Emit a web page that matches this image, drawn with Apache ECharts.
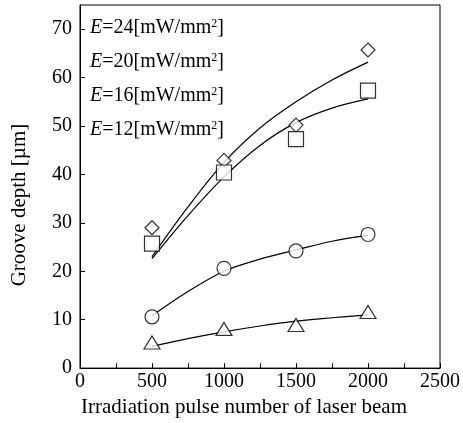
<!DOCTYPE html>
<html>
<head>
<meta charset="utf-8">
<script src="https://cdn.jsdelivr.net/npm/echarts@6/dist/echarts.min.js"></script>
<style>
  html, body { margin: 0; padding: 0; background: #fff; }
  #chart { width: 463px; height: 423px; }
</style>
</head>
<body>
<div id="chart"></div>
<script>
// measured points
var pulses = [500, 1000, 1500, 2000];
var depthE24 = [29.0, 42.9, 50.2, 65.7];
var depthE20 = [25.7, 40.4, 47.3, 57.3];
var depthE16 = [10.6, 20.6, 24.2, 27.6];
var depthE12 = [5.3, 8.1, 8.9, 11.6];

// fitted curves
var fitPulses = [500, 750, 1000, 1250, 1500, 1750, 2000];
var fitE24 = [23.0, 33.3, 42.5, 49.6, 55.0, 59.5, 63.2];
var fitE20 = [22.6, 31.5, 39.5, 46.0, 50.7, 53.7, 55.6];
var fitE16 = [10.8, 15.8, 20.0, 22.5, 24.4, 26.2, 27.4];
var fitE12 = [4.5, 6.1, 7.5, 8.7, 9.7, 10.4, 11.0];

var legendLabels = ['24', '20', '16', '12'];

var FONT = 'Liberation Serif';

function pairs(xs, ys) {
    return xs.map(function (x, i) { return [x, ys[i]]; });
}

function markerSeries(data, symbol, size) {
    return {
        type: 'scatter',
        data: pairs(pulses, data),
        symbol: symbol,
        symbolSize: size,
        itemStyle: { color: '#fff', borderColor: '#000', borderWidth: 1.2 },
        z: 3
    };
}

function fitSeries(data) {
    return {
        type: 'line',
        data: pairs(fitPulses, data),
        smooth: 0.35,
        showSymbol: false,
        lineStyle: { color: '#000', width: 1.2 },
        z: 2
    };
}

var chart = echarts.init(document.getElementById('chart'));

var legendTexts = legendLabels.map(function (v, i) {
    return {
        type: 'text',
        left: 90,
        top: 18 + i * 34,
        style: {
            text: '{i|E}=' + v + '[mW/mm{s|2}]',
            font: '20px ' + FONT,
            fill: '#000',
            rich: {
                i: { fontFamily: FONT, fontSize: 20, fontStyle: 'italic', fill: '#000' },
                s: { fontFamily: FONT, fontSize: 12, verticalAlign: 'top', fill: '#000' }
            }
        }
    };
});

chart.setOption({
    animation: false,
    backgroundColor: '#fff',
    grid: {
        left: 80, right: 19, top: 5, bottom: 53,
        show: true, borderColor: '#000', borderWidth: 1
    },
    xAxis: {
        type: 'value',
        min: 0, max: 2500, interval: 500,
        name: 'Irradiation pulse number of laser beam',
        nameLocation: 'middle',
        nameGap: 27,
        nameTextStyle: { fontFamily: FONT, fontSize: 21, color: '#000', padding: [0, 32, 0, 0] },
        axisLine: { lineStyle: { color: '#000', width: 1 } },
        axisTick: { inside: true, length: 5, lineStyle: { color: '#000' } },
        minorTick: { show: true, splitNumber: 2, length: 5, lineStyle: { color: '#000' } },
        splitLine: { show: false },
        axisLabel: {
            fontFamily: FONT, fontSize: 20, color: '#000', margin: 4,
            formatter: function (v) { return String(v); }
        }
    },
    yAxis: {
        type: 'value',
        min: 0, max: 75, interval: 10,
        name: 'Groove depth [µm]',
        nameLocation: 'middle',
        nameGap: 50,
        nameRotate: 90,
        nameTextStyle: { fontFamily: FONT, fontSize: 21, color: '#000', padding: [0, 37, 0, 0] },
        axisLine: { lineStyle: { color: '#000', width: 1 } },
        axisTick: { inside: true, length: 5, lineStyle: { color: '#000' } },
        splitLine: { show: false },
        axisLabel: { fontFamily: FONT, fontSize: 20, color: '#000', margin: 8, showMaxLabel: false }
    },
    graphic: legendTexts,
    series: [
        fitSeries(fitE24),
        fitSeries(fitE20),
        fitSeries(fitE16),
        fitSeries(fitE12),
        markerSeries(depthE24, 'diamond', 14),
        markerSeries(depthE20, 'rect', 15),
        markerSeries(depthE16, 'circle', 14),
        markerSeries(depthE12, 'triangle', [16, 13])
    ]
});
</script>
</body>
</html>
